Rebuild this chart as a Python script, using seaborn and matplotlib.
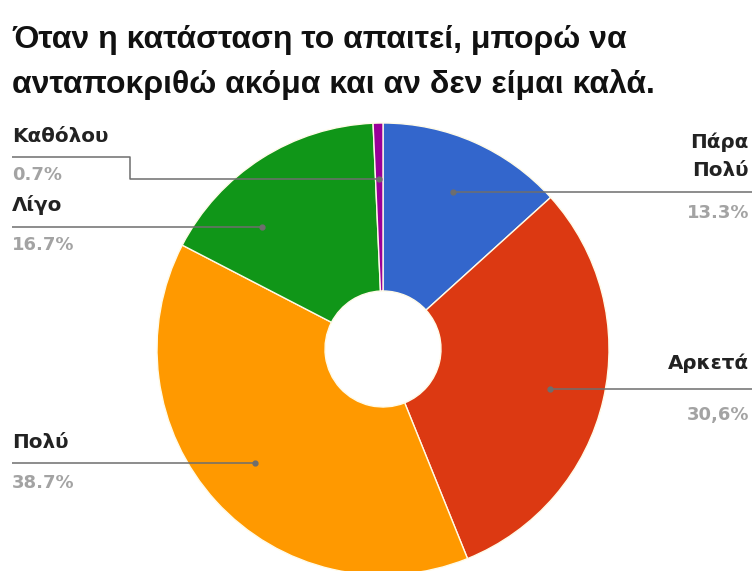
import numpy as np
import matplotlib
matplotlib.use("Agg")
import matplotlib.pyplot as plt
import seaborn as sns

# Survey answers, clockwise from 12 o'clock
categories = ["Πάρα Πολύ", "Αρκετά", "Πολύ", "Λίγο", "Καθόλου"]
shares = [13.3, 30.6, 38.7, 16.7, 0.7]
share_labels = ["13.3%", "30,6%", "38.7%", "16.7%", "0.7%"]
name_lines = [["Πάρα", "Πολύ"], ["Αρκετά"], ["Πολύ"], ["Λίγο"], ["Καθόλου"]]
title_lines = ["Όταν η κατάσταση το απαιτεί, μπορώ να",
               "ανταποκριθώ ακόμα και αν δεν είμαι καλά."]

sns.set_theme(style="white")
plt.rcParams["font.family"] = ["DejaVu Sans"]

W, H = 756, 571
fig = plt.figure(figsize=(W / 100, H / 100), dpi=100)
ax = fig.add_axes([0, 0, 1, 1])


def Y(py):
    """Convert a top-down pixel row into data y."""
    return H - py


colors = ["#3366CC", "#DC3912", "#FF9900", "#109618", "#990099"]
cx, cy, R, r_hole = 383, Y(349), 226, 58

wedges, _ = ax.pie(shares, colors=colors, startangle=90, counterclock=False,
                   center=(cx, cy), radius=R, frame=True,
                   wedgeprops=dict(width=R - r_hole, edgecolor="#fffbe8",
                                   linewidth=1.0))
ax.set_xlim(0, W)
ax.set_ylim(0, H)
ax.set_aspect("equal")
ax.axis("off")

# Leader-line layout: side, text rows (name rows, line row, percent row)
layout = [
    dict(side="right", names=[142, 170], line=192, pct=213),
    dict(side="right", names=[363], line=389, pct=415),
    dict(side="left", names=[442], line=463, pct=483),
    dict(side="left", names=[205], line=227, pct=245),
    dict(side="left", names=[137], line=157, pct=175, elbow=(130, 179)),
]

r_anchor = 0.76 * R
name_kw = dict(fontsize=14.3, fontweight="bold", color="#222222", va="center")
pct_kw = dict(fontsize=13, fontweight="bold", color="#a3a3a3", va="center")
line_kw = dict(color="#6e6e6e", lw=1.1, solid_capstyle="butt", zorder=3)

for w, names, pct, lay in zip(wedges, name_lines, share_labels, layout):
    mid = np.deg2rad((w.theta1 + w.theta2) / 2)
    side = lay["side"]
    if "elbow" in lay:
        ax_ = cx + r_anchor * np.cos(mid)
        ex, ey = lay["elbow"]
        xs = [12, ex, ex, ax_]
        ys = [Y(lay["line"]), Y(lay["line"]), Y(ey), Y(ey)]
        ay_ = Y(ey)
    else:
        ly = Y(lay["line"])
        dy = ly - cy
        dx = np.sqrt(max(r_anchor ** 2 - dy ** 2, 0))
        ax_ = cx + dx if side == "right" else cx - dx
        ay_ = ly
        xs = [752, ax_] if side == "right" else [12, ax_]
        ys = [ly, ly]
    ax.plot(xs, ys, **line_kw)
    ax.plot([ax_], [ay_], "o", ms=3.5, color="#6e6e6e", zorder=4)

    tx = 749 if side == "right" else 12
    ha = "right" if side == "right" else "left"
    for row, name in zip(lay["names"], names):
        ax.text(tx, Y(row), name, ha=ha, **name_kw)
    ax.text(tx, Y(lay["pct"]), pct, ha=ha, **pct_kw)

for row, line in zip([40, 85], title_lines):
    ax.text(12, Y(row), line, ha="left", va="center", fontsize=23,
            fontweight="bold", color="#111111", family=["Liberation Sans"])

fig.savefig("out.png", dpi=100, facecolor="white")
